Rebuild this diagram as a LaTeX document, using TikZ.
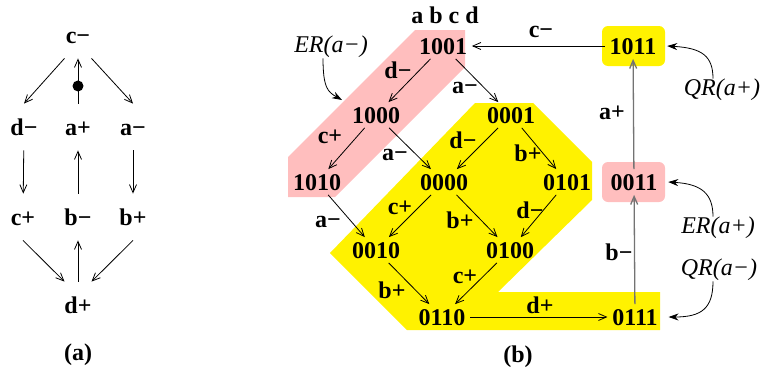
\documentclass[tikz,border=0pt]{standalone}
\usepackage{fontspec}
\setmainfont{Liberation Serif}
\usetikzlibrary{arrows.meta}
\definecolor{pinkfill}{RGB}{255,190,190}

\begin{document}
\begin{tikzpicture}[x=1pt, y=-1pt, line width=0.8pt,
		>={Straight Barb[length=8pt,width=7pt]},
		every node/.style={font=\fontsize{24}{28}\selectfont\bfseries},
		ev/.style={minimum width=40pt, minimum height=46pt, inner sep=0pt, text height=16pt, text depth=0pt},
		st/.style={inner sep=4.5pt, text height=16pt, text depth=0pt},
		lbl/.style={inner sep=0pt},
		reg/.style={font=\fontsize{24}{28}\selectfont\itshape, inner sep=0pt},
		regarrow/.style={-{Stealth[length=10pt,width=7pt]}},
		gline/.style={draw=black!55, line width=1.3pt}]
		\useasboundingbox (0,0) rectangle (761,378);

		% (a) signal graph
		\node[ev] (cm) at (78,35) {c−};
		\node[ev] (dm) at (24,127) {d−};
		\node[ev] (ap) at (78,127) {a+};
		\node[ev] (am) at (133,127) {a−};
		\node[ev] (cp) at (23,217) {c+};
		\node[ev] (bm) at (78,217) {b−};
		\node[ev] (bp) at (133,217) {b+};
		\node[ev] (dp) at (78,305) {d+};
		\node (capA) at (78,355) {(a)};

		\draw[->] (cm.-120) -- (dm.north);
		\draw[->] (cm.-60) -- (am.north);
		\draw[->] (ap) -- node[pos=0.39, circle, fill, inner sep=0pt, minimum size=11pt] (tok) {} (cm);
		\draw[->] (dm) -- (cp);
		\draw[->] (bm) -- (ap);
		\draw[->] (am) -- (bp);
		\draw[->] (cp.south) -- (dp.120);
		\draw[->] (bp.south) -- (dp.60);
		\draw[->] (dp) -- (bm);

		% (b) regions
		\fill[pinkfill] (415,30) -- (465,30) -- (465,67) -- (335,197) -- (288,197) -- (288,157) -- cycle;
		\fill[yellow] (475,103) -- (533,103) -- (592,162) -- (592,200) -- (498,292) -- (660,292)
			-- (660,330) -- (407,330) -- (330,253) -- cycle;
		\fill[yellow, rounded corners=6pt] (602,26) rectangle (665,66);
		\fill[pinkfill, rounded corners=6pt] (602,162) rectangle (665,202);

		% (b) states
		\node (hdr) at (445,15) {a b c d};
		\node[st] (n1001) at (443,46) {1001};
		\node[st] (n1011) at (633,46) {1011};
		\node[st] (n1000) at (376,115) {1000};
		\node[st] (n0001) at (511,115) {0001};
		\node[st] (n1010) at (317,182) {1010};
		\node[st] (n0000) at (444,182) {0000};
		\node[st] (n0101) at (567,182) {0101};
		\node[st] (n0011) at (634,182) {0011};
		\node[st] (n0010) at (376,250) {0010};
		\node[st] (n0100) at (510,250) {0100};
		\node[st] (n0110) at (442,317) {0110};
		\node[st] (n0111) at (635,317) {0111};
		\node (capB) at (518,357) {(b)};

		% transitions
		\draw[->] (n1011) -- (n1001);
		\draw[->] (n1001) -- (n1000);
		\draw[->] (n1001) -- (n0001);
		\draw[->] (n1000) -- (n1010);
		\draw[->] (n1000) -- (n0000);
		\draw[->] (n0001) -- (n0000);
		\draw[->] (n0001) -- (n0101);
		\draw[->] (n1010) -- (n0010);
		\draw[->] (n0000) -- (n0010);
		\draw[->] (n0000) -- (n0100);
		\draw[->] (n0101) -- (n0100);
		\draw[->] (n0010) -- (n0110);
		\draw[->] (n0100) -- (n0110);
		\draw[->] (n0110) -- (n0111);
		\draw[->, gline] (n0111) -- (n0011);
		\draw[->, gline] (n0011) -- (n1011);

		% transition labels
		\node[lbl] (tCm) at (541,32) {c−};
		\node[lbl] (tDm1) at (398,70) {d−};
		\node[lbl] (tAm1) at (465,88) {a−};
		\node[lbl] (tCp1) at (330,137) {c+};
		\node[lbl] (tAm2) at (395,155) {a−};
		\node[lbl] (tDm2) at (463,140) {d−};
		\node[lbl] (tBp1) at (528,153) {b+};
		\node[lbl] (tAm3) at (328,222) {a−};
		\node[lbl] (tCp2) at (400,208) {c+};
		\node[lbl] (tBp2) at (460,220) {b+};
		\node[lbl] (tDm3) at (530,210) {d−};
		\node[lbl] (tBp3) at (392,290) {b+};
		\node[lbl] (tCp3) at (465,277) {c+};
		\node[lbl] (tDp) at (540,305) {d+};
		\node[lbl] (tBm) at (619,252) {b−};
		\node[lbl] (tAp) at (612,113) {a+};

		% region names
		\node[reg] (erAm) at (331,47) {ER(a−)};
		\node[reg] (qrAp) at (722,90) {QR(a+)};
		\node[reg] (erAp) at (718,228) {ER(a+)};
		\node[reg] (qrAm) at (719,270) {QR(a−)};
		\coordinate (erAmTip) at (342,100);

		\draw[regarrow] ([xshift=-8pt]erAm.south) .. controls (323,88) and (328,92) .. (erAmTip);
		\draw[regarrow] ([xshift=-9pt]qrAp.north) .. controls (713,56) and (702,48) .. ([xshift=6pt]n1011.east);
		\draw[regarrow] ([xshift=-5pt]erAp.north) .. controls (713,194) and (702,184) .. ([xshift=6pt]n0011.east);
		\draw[regarrow] ([xshift=-6pt]qrAm.south) .. controls (713,308) and (702,317) .. ([xshift=6pt]n0111.east);
	\end{tikzpicture}
\end{document}
